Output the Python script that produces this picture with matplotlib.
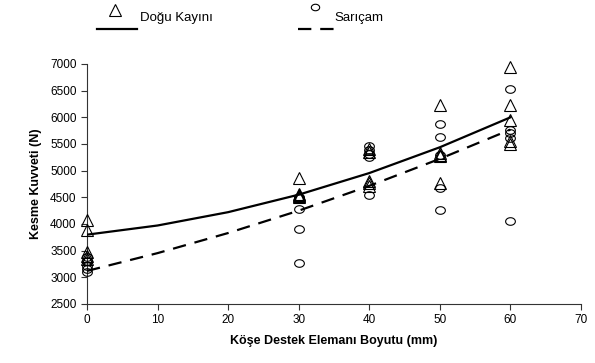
import matplotlib
matplotlib.use("Agg")
import numpy as np
import matplotlib.pyplot as plt
from matplotlib.lines import Line2D
from matplotlib.path import Path

plt.rcParams['font.family'] = ['Liberation Sans', 'DejaVu Sans']

# Data
sizes_x = [0, 30, 40, 50, 60]
dogu_vals = [
    [4080, 3880, 3470, 3400, 3350],
    [4860, 4560, 4520, 4500, 4540],
    [5400, 4800, 4760, 4720, 5350],
    [6230, 5330, 5270, 4770, 5290],
    [6950, 6230, 5950, 5550, 5500],
]
saricam_vals = [
    [3300, 3220, 3150, 3100, 3380],
    [4290, 3900, 3260, 4480, 4500],
    [5460, 5390, 5310, 5250, 4550],
    [5870, 5640, 5300, 4680, 4260],
    [6540, 5760, 5700, 5620, 4060],
]
trend_x = [0, 10, 20, 30, 40, 50, 60]
dogu_trend = [3800, 3972, 4222, 4550, 4955, 5439, 6000]
saricam_trend = [3120, 3454, 3831, 4250, 4715, 5222, 5770]

series_names = ["Doğu Kayını", "Sarıçam"]
xlabel = "Köşe Destek Elemanı Boyutu (mm)"
ylabel = "Kesme Kuvveti (N)"

# elliptical open marker (wider than tall, as in the reference)
_t = np.linspace(0, 2 * np.pi, 41)
ellipse_marker = Path(np.column_stack([np.cos(_t), 0.78 * np.sin(_t)]), closed=True)

W, H = 595, 363
fig = plt.figure(figsize=(W / 100, H / 100), dpi=100)
ax = fig.add_axes([87 / W, (H - 304) / H, (581 - 87) / W, 240 / H])

for xv, vals in zip(sizes_x, dogu_vals):
    ax.plot([xv] * len(vals), vals, linestyle='none', marker='^', markersize=8,
            markerfacecolor='none', markeredgecolor='black', markeredgewidth=0.8,
            clip_on=False, zorder=3)
for xv, vals in zip(sizes_x, saricam_vals):
    ax.plot([xv] * len(vals), vals, linestyle='none', marker=ellipse_marker, markersize=7,
            markerfacecolor='none', markeredgecolor='black', markeredgewidth=0.8,
            clip_on=False, zorder=3)

ax.plot(trend_x, dogu_trend, color='black', lw=1.6, zorder=4)
ax.plot(trend_x, saricam_trend, color='black', lw=1.6, linestyle=(0, (6, 4)), zorder=4)

ax.set_xlim(0, 70)
ax.set_ylim(2500, 7000)
ax.set_xticks(range(0, 71, 10))
ax.set_yticks(range(2500, 7001, 500))
ax.tick_params(axis='both', labelsize=8.5, length=4, width=0.8, direction='out', color='#333333')
ax.spines['top'].set_visible(False)
ax.spines['right'].set_visible(False)
for s in ['left', 'bottom']:
    ax.spines[s].set_linewidth(0.8)
    ax.spines[s].set_color('#333333')

ax.set_xlabel(xlabel, fontsize=9, fontweight='bold', labelpad=6)
ax.set_ylabel(ylabel, fontsize=9, fontweight='bold', labelpad=6)

# Legend drawn in pixel coords (Excel style: marker above line)
def px(x, y):
    return x / W, 1 - y / H

fig.add_artist(Line2D([px(97, 29)[0], px(137, 29)[0]], [px(97, 29)[1]] * 2, color='black', lw=1.6))
mx, my = px(115, 10)
fig.add_artist(Line2D([mx], [my], marker='^', markersize=8, markerfacecolor='none',
                      markeredgecolor='black', markeredgewidth=0.8, linestyle='none'))
tx, ty = px(140, 18)
fig.text(tx, ty, series_names[0], fontsize=9.5, va='center', ha='left')

fig.add_artist(Line2D([px(298, 29)[0], px(336, 29)[0]], [px(298, 29)[1]] * 2, color='black', lw=1.6,
                      linestyle=(0, (6, 4))))
mx, my = px(315, 7)
fig.add_artist(Line2D([mx], [my], marker=ellipse_marker, markersize=6, markerfacecolor='none',
                      markeredgecolor='black', markeredgewidth=0.8, linestyle='none'))
tx, ty = px(334, 18)
fig.text(tx, ty, series_names[1], fontsize=9.5, va='center', ha='left')

fig.savefig("out.png", dpi=100)
